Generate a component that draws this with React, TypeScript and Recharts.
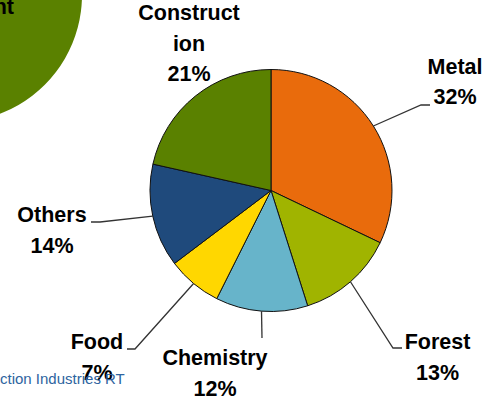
import { PieChart, Pie, Cell } from 'recharts';

// sector shares (clockwise from 12 o'clock)
const sectors = ['Metal', 'Forest', 'Chemistry', 'Food', 'Others', 'Construction'];
const shares = [32.1, 13.0, 12.3, 7.3, 13.8, 21.5];
const percentLabels = ['32%', '13%', '12%', '7%', '14%', '21%'];
const nameLines = [['Metal'], ['Forest'], ['Chemistry'], ['Food'], ['Others'], ['Construct', 'ion']];
const sliceColors = ['#E96B0C', '#A0B400', '#67B4CA', '#FFD700', '#1F4A7C', '#5A8100'];

// decorative slide circle peeking in at the top-left corner
const backdrop = [{ name: 'backdrop', value: 1 }];

const FONT = '"Liberation Sans", Arial, sans-serif';
const LINE_GAP = 30.5;

// label placement (text centre / first baseline) and leader elbows
const labelLayout = [
  { x: 455, y: 73.5, elbow: [421, 105], end: [430, 105] },
  { x: 437.5, y: 349, elbow: [393, 348], end: [402, 348] },
  { x: 215, y: 365, elbow: [262, 338], end: [262, 338] },
  { x: 97, y: 349, elbow: [135, 349], end: [127, 349] },
  { x: 52, y: 222, elbow: [100, 222], end: [91, 222] },
  { x: 189, y: 20, elbow: null, end: null },
];

const chartData = sectors.map((name, i) => ({ name, value: shares[i] }));

const renderLabel = (props: any) => {
  const { cx, cy, midAngle, outerRadius, index } = props;
  const lay = labelLayout[index];
  const rad = Math.PI / 180;
  const sx = cx + outerRadius * Math.cos(-midAngle * rad);
  const sy = cy + outerRadius * Math.sin(-midAngle * rad);
  const lines = [...nameLines[index], percentLabels[index]];
  return (
    <g key={`label-${index}`}>
      {lay.elbow && lay.end && (
        <polyline
          points={`${sx},${sy} ${lay.elbow[0]},${lay.elbow[1]} ${lay.end[0]},${lay.end[1]}`}
          fill="none"
          stroke="#333"
          strokeWidth={1.3}
        />
      )}
      <text
        x={lay.x}
        y={lay.y}
        textAnchor="middle"
        fontFamily={FONT}
        fontWeight="bold"
        fontSize={21.5}
        fill="#000"
      >
        {lines.map((t, i) => (
          <tspan key={i} x={lay.x} dy={i === 0 ? 0 : LINE_GAP}>
            {t}
          </tspan>
        ))}
      </text>
    </g>
  );
};

export default function App() {
  return (
    <div style={{ position: 'absolute', left: 0, top: 0, width: 489, height: 403, background: '#fff' }}>
      <PieChart width={489} height={403} margin={{ top: 0, right: 0, bottom: 0, left: 0 }}>
        <Pie
          data={backdrop}
          dataKey="value"
          cx={-45}
          cy={-5}
          outerRadius={127}
          stroke="none"
          isAnimationActive={false}
        >
          <Cell fill="#5A8100" />
        </Pie>
        <Pie
          data={chartData}
          dataKey="value"
          cx={271}
          cy={190.5}
          outerRadius={121}
          startAngle={90}
          endAngle={-270}
          stroke="#111"
          strokeWidth={1}
          label={renderLabel}
          labelLine={false}
          isAnimationActive={false}
        >
          {chartData.map((d, i) => (
            <Cell key={d.name} fill={sliceColors[i]} />
          ))}
        </Pie>
      </PieChart>
      <svg width={489} height={403} style={{ position: 'absolute', left: 0, top: 0, pointerEvents: 'none' }}>
        <text x={14} y={14} textAnchor="end" fontFamily={FONT} fontWeight="bold" fontSize={21.5} fill="#000">
          nt
        </text>
        <text x={0} y={384} fontFamily={FONT} fontSize={15} fill="#2E64A0">
          ction Industries RT
        </text>
      </svg>
    </div>
  );
}
